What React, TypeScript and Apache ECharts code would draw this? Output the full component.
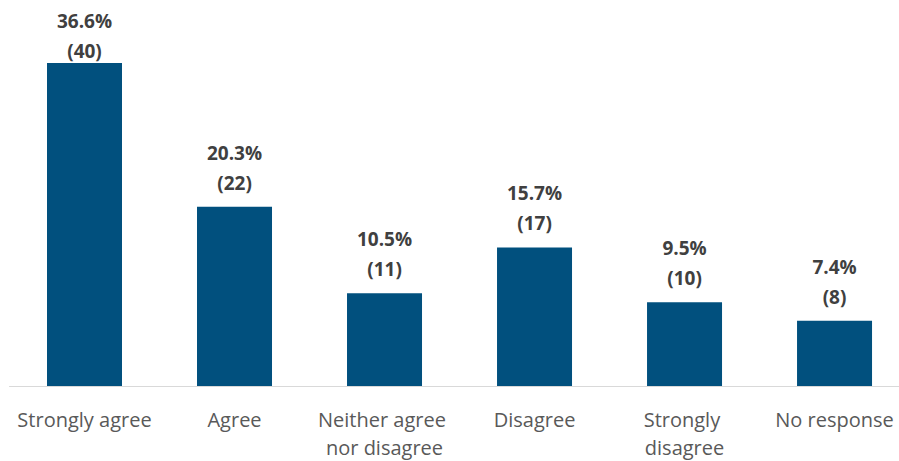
import React, { useEffect, useRef } from "react";
import * as echarts from "echarts";

const categories = ["Strongly agree", "Agree", "Neither agree nor disagree", "Disagree", "Strongly disagree", "No response"];
const percents = [36.6, 20.3, 10.5, 15.7, 9.5, 7.4];
const counts = [40, 22, 11, 17, 10, 8];

export default function App() {
  const ref = useRef<HTMLDivElement>(null);
  useEffect(() => {
    if (!ref.current) return;
    const chart = echarts.init(ref.current, null, { renderer: "svg" });
    chart.setOption({
      animation: false,
      grid: { left: 9.5, right: 0, top: 33, bottom: 68, containLabel: false },
      xAxis: {
        type: "category",
        data: categories,
        axisLine: { lineStyle: { color: "#d9d9d9", width: 1 } },
        axisTick: { show: false },
        axisLabel: {
          color: "#595959",
          fontFamily: "Open Sans",
          fontSize: 20,
          lineHeight: 28,
          margin: 19,
          interval: 0,
          width: 145,
          overflow: "break",
        },
      },
      yAxis: { type: "value", min: 0, max: 40, show: false, splitLine: { show: false } },
      series: [
        {
          type: "bar",
          barWidth: 75,
          data: percents.map((v, i) => ({
            value: v,
            label: i === 0 ? { offset: [0, 12] } : undefined,
          })),
          itemStyle: { color: "#01507e" },
          label: {
            show: true,
            position: "top",
            distance: 9,
            formatter: (p: any) => `{a|${percents[p.dataIndex].toFixed(1)}%}\n{a|(${counts[p.dataIndex]})}`,
            rich: {
              a: { fontFamily: "Open Sans", fontSize: 19, fontWeight: "bold", color: "#404040", lineHeight: 30 },
            },
          },
        },
      ],
    });
    return () => chart.dispose();
  }, []);
  return (
    <div style={{ position: "fixed", left: 0, top: 0, width: 899, height: 461, overflow: "hidden", background: "#fff" }}>
      <div ref={ref} style={{ width: 900 + 9.5, height: 461 }} />
    </div>
  );
}
